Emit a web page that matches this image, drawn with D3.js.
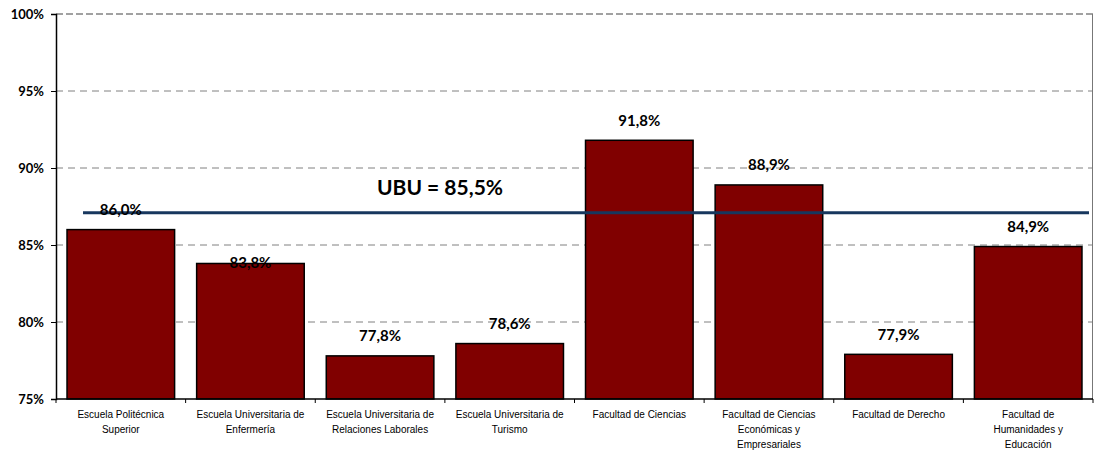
<!DOCTYPE html>
<html>
<head>
<meta charset="utf-8">
<script src="https://cdn.jsdelivr.net/npm/d3@7"></script>
<style>
  body { margin: 0; background: #fff; }
  svg { display: block; }
</style>
</head>
<body>
<div id="chart"></div>
<script>
const categories = [
  ["Escuela Politécnica", "Superior"],
  ["Escuela Universitaria de", "Enfermería"],
  ["Escuela Universitaria de", "Relaciones Laborales"],
  ["Escuela Universitaria de", "Turismo"],
  ["Facultad de Ciencias"],
  ["Facultad de Ciencias", "Económicas y", "Empresariales"],
  ["Facultad de Derecho"],
  ["Facultad de", "Humanidades y", "Educación"],
];
const values = [86.0, 83.8, 77.8, 78.6, 91.8, 88.9, 77.9, 84.9];
// where each value label sits, in axis units
const labelPos = [87.3, 83.85, 79.1, 79.9, 93.1, 90.2, 79.2, 86.2];
const yTicks = [75, 80, 85, 90, 95, 100];
const ubuLineValue = 87.1;
const ubuLabel = "UBU = 85,5%";

const width = 1095;
const height = 453;
const margin = { top: 14, right: 2, bottom: 54, left: 56 };

const svg = d3.select("#chart").append("svg")
  .attr("width", width)
  .attr("height", height);

const xScale = d3.scaleBand()
  .domain(d3.range(categories.length))
  .range([margin.left, width - margin.right])
  .paddingInner(0.17)
  .paddingOuter(0.085);

const yScale = d3.scaleLinear()
  .domain([75, 100])
  .range([height - margin.bottom, margin.top]);

const fmt = (v) => v.toFixed(1).replace(".", ",") + "%";

// gridlines
svg.append("g")
  .selectAll("line")
  .data(yTicks.filter((d) => d > 75 && d < 100))
  .join("line")
  .attr("x1", margin.left)
  .attr("x2", width - margin.right)
  .attr("y1", (d) => yScale(d))
  .attr("y2", (d) => yScale(d))
  .style("stroke", "#808080")
  .style("stroke-width", 1)
  .style("stroke-dasharray", "7,5");

// top and right frame
svg.append("line")
  .attr("x1", margin.left).attr("x2", width - margin.right)
  .attr("y1", yScale(100)).attr("y2", yScale(100))
  .style("stroke", "#444").style("stroke-width", 1.2)
  .style("stroke-dasharray", "7,3");
svg.append("line")
  .attr("x1", width - margin.right - 0.5).attr("x2", width - margin.right - 0.5)
  .attr("y1", yScale(100)).attr("y2", yScale(75))
  .style("stroke", "#777").style("stroke-width", 1);

// bars
svg.append("g")
  .selectAll("rect")
  .data(values)
  .join("rect")
  .attr("x", (d, i) => xScale(i))
  .attr("width", xScale.bandwidth())
  .attr("y", (d) => yScale(d))
  .attr("height", (d) => yScale(75) - yScale(d))
  .style("fill", "#800000")
  .style("stroke", "#000")
  .style("stroke-width", 1.5);

// y axis
const yAxis = svg.append("g")
  .attr("transform", `translate(${margin.left}, 0)`)
  .call(d3.axisLeft(yScale).tickValues(yTicks).tickSize(5).tickPadding(7)
    .tickFormat((d) => d + "%"));
yAxis.select(".domain").style("stroke", "#000").style("stroke-width", 1.5);
yAxis.selectAll("line").style("stroke", "#000");
yAxis.selectAll("text")
  .style("font-family", "Lato, 'Open Sans', sans-serif")
  .style("font-weight", "bold")
  .style("font-size", "13px")
  .style("fill", "#000");

// x axis
const bounds = d3.range(categories.length + 1).map((i) =>
  margin.left + i * (width - margin.left - margin.right) / categories.length);
svg.append("line")
  .attr("x1", margin.left).attr("x2", width - margin.right)
  .attr("y1", yScale(75)).attr("y2", yScale(75))
  .style("stroke", "#000").style("stroke-width", 1.5);
svg.append("g")
  .selectAll("line")
  .data(bounds)
  .join("line")
  .attr("x1", (d) => d).attr("x2", (d) => d)
  .attr("y1", yScale(75)).attr("y2", yScale(75) + 4)
  .style("stroke", "#000");

svg.append("g")
  .selectAll("text")
  .data(categories)
  .join("text")
  .attr("x", (d, i) => xScale(i) + xScale.bandwidth() / 2)
  .attr("y", yScale(75) + 19)
  .attr("text-anchor", "middle")
  .style("font-family", "Arial, 'Liberation Sans', sans-serif")
  .style("font-size", "10px")
  .style("fill", "#000")
  .each(function (lines) {
    d3.select(this).selectAll("tspan")
      .data(lines)
      .join("tspan")
      .attr("x", d3.select(this).attr("x"))
      .attr("dy", (d, j) => (j === 0 ? 0 : 15))
      .text((d) => d);
  });

// UBU line
svg.append("line")
  .attr("x1", xScale(0) + 16)
  .attr("x2", width - margin.right - 4)
  .attr("y1", yScale(ubuLineValue))
  .attr("y2", yScale(ubuLineValue))
  .style("stroke", "#17375E")
  .style("stroke-width", 3);

svg.append("text")
  .attr("x", 440)
  .attr("y", yScale(ubuLineValue) - 18)
  .attr("text-anchor", "middle")
  .style("font-family", "Lato, 'Open Sans', sans-serif")
  .style("font-weight", "bold")
  .style("font-size", "21px")
  .style("fill", "#000")
  .text(ubuLabel);

// value labels
svg.append("g")
  .selectAll("text")
  .data(values)
  .join("text")
  .attr("x", (d, i) => xScale(i) + xScale.bandwidth() / 2)
  .attr("y", (d, i) => yScale(labelPos[i]))
  .attr("dy", "0.35em")
  .attr("text-anchor", "middle")
  .style("font-family", "Lato, 'Open Sans', sans-serif")
  .style("font-weight", "bold")
  .style("font-size", "15px")
  .style("fill", "#000")
  .text((d) => fmt(d));
</script>
</body>
</html>
